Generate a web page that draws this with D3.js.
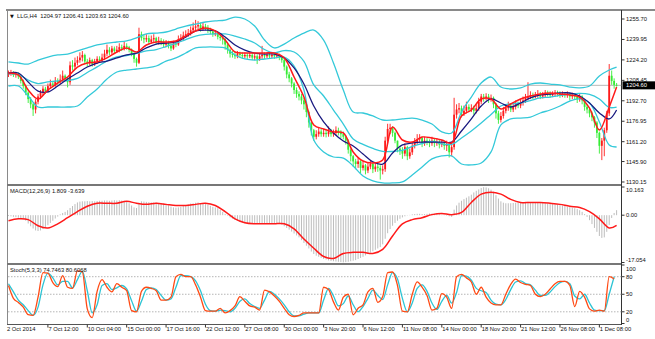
<!DOCTYPE html>
<meta charset="utf-8">
<script src="https://d3js.org/d3.v7.min.js"></script>
<style>
  body { margin: 0; background: #fff; }
  text { font-family: "Liberation Sans", Arial, sans-serif; font-size: 5.8px; fill: #111; }
</style>
<svg id="chart" width="655" height="339"></svg>
<script>
// ---- data (H4 bars) ----
const firstOpen = 1212.5;
const close = [
  1213.5,1214.5,1212.5,1213.8,1211.5,1208,1204,1199,1194,1190,
  1186,1192,1196,1199,1202,1200,1204,1206,1205,1208,
  1207,1209,1212,1210,1207,1220,1219,1222,1224,1226,
  1228,1223,1222,1224,1221,1223,1225,1224,1226,1229,
  1232,1230,1233,1231,1232,1234,1233,1235,1234,1232,
  1229,1225,1222,1244,1241,1240,1241,1238,1240,1241,
  1238,1239,1238,1236,1237,1235,1233,1237,1236,1240,
  1241,1243,1244,1245,1247,1249,1250,1251,1248,1250,
  1249,1247,1246,1244,1245,1242,1241,1240,1236,1232,
  1229,1228,1227,1229,1228,1227,1228,1227,1228,1226,
  1227,1225,1227,1228,1227,1228,1227,1228,1227,1227.5,
  1226,1224,1219,1213,1210,1206,1201,1198,1196,1193,
  1190,1184,1176,1170,1165,1167,1169,1167,1168,1167,
  1169,1167,1168,1170,1168,1167,1165,1162,1155,1150,
  1146,1144,1146,1141,1143,1139,1142,1144,1140,1142,
  1141,1139,1140,1162,1171,1172,1168,1162,1156,1154,
  1152,1157,1150,1153,1158,1161,1163,1164,1160,1162,
  1161,1160,1162,1160,1161,1159,1160,1158,1159,1153,
  1157,1182,1186,1187,1183,1185,1188,1186,1187,1185,
  1187,1192,1196,1195,1196,1194,1195,1190,1183,1178,
  1181,1185,1187,1189,1186,1188,1190,1189,1191,1193,
  1195,1196,1197,1196,1197,1198,1196,1197,1199,1198,
  1197,1198,1199,1198,1197,1198,1197,1198,1196,1197,
  1196,1194,1196,1193,1188,1186,1183,1180,1176,1168,
  1158,1162,1170,1183,1212,1208,1204.97,1204.6
];
const high = [
  1216,1216.5,1215.5,1215,1214.5,1212.5,1209,1205,1200,1195.5,
  1191,1194,1198,1201,1204,1203.5,1206,1209,1208,1211,
  1210,1213,1216,1213,1211,1223,1224,1226,1227,1230,
  1231,1229,1225,1226,1225,1225,1227,1227,1229,1232,
  1236,1234,1235,1234.5,1235,1237,1236,1238,1237,1235,
  1233,1230,1226,1249,1246,1244,1244,1243,1243,1244,
  1242,1242,1241,1240,1239.5,1239,1237,1239,1239,1243,
  1244,1246,1247,1248,1250,1253,1255,1254,1253,1253,
  1252,1251,1249,1248,1247,1246,1244,1243,1241,1237,
  1233,1231,1230,1231,1230.5,1230,1230,1229.5,1230,1229.5,
  1229,1228.5,1229,1235,1230,1230,1229.5,1230,1229.5,1229.5,
  1229,1227,1225,1220,1215,1211,1207,1203,1200,1198,
  1195,1191,1185,1178,1171,1170,1172,1171,1171,1170,
  1173,1171,1170.5,1173,1172,1170,1169,1166,1163,1156,
  1151,1148,1149,1147,1146,1144,1145,1147,1145,1145,
  1144,1143,1143,1165,1175,1175,1173,1169,1162,1158,
  1157,1160,1158,1156,1161,1164,1167,1167,1165,1165,
  1164,1163,1165,1163.5,1164,1163,1162.5,1161.5,1162,1160,
  1160,1195,1190,1191,1189,1189,1192,1190,1190,1189,
  1190,1195,1198,1198,1198.5,1198,1197.5,1196,1191,1185,
  1184,1188,1190,1192,1191,1191,1193,1192,1194,1196,
  1198,1207,1200,1199,1199.5,1201,1199.5,1199.5,1201,1200.5,
  1200,1200,1201,1200.5,1200,1200,1199.5,1200,1199,1199,
  1198.5,1197,1198,1197,1194,1190,1187,1184.5,1181,1177,
  1169,1164,1172,1185,1221,1216,1210,1206.41
];
const low = [
  1211,1212,1211,1210.5,1209.5,1206,1202,1197,1191,1187,
  1181,1183,1190,1194,1197,1198,1199,1202,1203,1203.5,
  1205,1205.5,1207,1208,1203,1205,1216,1217,1220,1222,
  1223,1221,1219,1220,1219,1219.5,1221,1222,1222.5,1224,
  1227,1228,1228.5,1229,1229.5,1230,1231,1231.5,1232,1230,
  1227,1222,1219,1221,1239,1237,1238,1236,1236.5,1238,
  1236,1236,1235.5,1234,1234,1233,1231,1232,1234,1235,
  1238,1239.5,1241,1242,1243,1245,1247,1248,1246,1246.5,
  1247,1245,1244,1242,1242.5,1240,1239,1236,1232,1229,
  1226,1226,1225,1225.5,1226,1225,1225.5,1225,1225.5,1224,
  1224,1221,1223.5,1225,1225,1225.5,1225,1225.5,1225,1225.5,
  1224,1222,1216,1210,1207,1203,1198,1195,1193,1190,
  1186,1180,1172,1166,1162,1163,1165,1165,1165,1164.5,
  1165,1165,1165,1166,1166,1164,1163,1159,1152,1146,
  1142,1140,1141,1137,1139,1136,1137,1140,1137,1138,
  1138,1132,1136,1138,1160,1167,1165,1160,1153,1151,
  1148,1150,1147,1148,1151,1156,1159,1161,1157,1158,
  1158.5,1157,1158,1157,1158,1156,1157,1155,1154,1149,
  1150,1155,1179,1183,1180,1181,1183,1184,1184,1182,
  1183,1185,1190,1192,1193,1191,1192,1187,1179,1175,
  1176,1179,1183,1185,1184,1184,1186,1187,1187,1189,
  1191,1193,1194,1194,1194.5,1195,1194,1194.5,1195,1196,
  1195,1195.5,1196,1196,1195,1195.5,1195,1195,1193,1194,
  1193.5,1191,1192,1190,1185,1183,1180,1177,1172,1164,
  1152,1147,1150,1168,1181,1205,1202,1203.63
];

// indicator lines, read every 4th bar (plus the last bar)
const bbUpper = [
  1222.6,1221.8,1221.0,1224.1,1226.4,1228.0,1228.7,1231.1,1233.4,1235.7,
  1237.2,1238.0,1238.8,1241.1,1244.2,1244.9,1245.7,1248.0,1250.3,1251.8,
  1253.4,1254.2,1254.9,1257.2,1255.7,1250.3,1239.5,1233.4,1236.4,1241.1,
  1244.9,1247.2,1239.5,1221.8,1201.0,1184.1,1183.3,1181.0,1177.9,1177.9,
  1178.7,1179.4,1177.9,1174.8,1168.7,1167.9,1184.1,1195.6,1206.4,1211.0,
  1203.3,1201.8,1202.6,1205.6,1206.4,1205.6,1204.9,1203.3,1202.6,1204.1,
  1211.8,1216.4,1218.7
];
const bbMiddle = [
  1213.4,1213.0,1208.7,1206.0,1207.2,1208.0,1208.3,1209.9,1214.5,1218.8,
  1223.4,1226.5,1227.6,1229.2,1231.1,1232.2,1234.5,1236.9,1239.9,1242.6,
  1243.8,1244.2,1244.2,1242.6,1240.3,1237.2,1232.2,1229.6,1231.4,1230.3,
  1223.0,1204.9,1196.4,1185.6,1174.8,1163.3,1159.1,1156.0,1153.7,1153.7,
  1154.5,1157.5,1159.8,1161.4,1159.5,1159.1,1164.1,1169.5,1175.6,1182.2,
  1188.7,1190.3,1191.0,1192.9,1194.9,1195.6,1196.8,1197.9,1198.4,1197.6,
  1194.1,1187.6,1187.9
];
const bbLower = [
  1204.1,1204.1,1196.4,1187.9,1187.9,1187.9,1187.9,1188.7,1195.6,1201.8,
  1209.5,1214.9,1216.4,1217.2,1218.0,1219.5,1223.3,1225.7,1229.5,1233.4,
  1234.1,1234.1,1233.4,1228.0,1224.9,1224.1,1224.9,1225.7,1226.4,1219.5,
  1201.0,1162.5,1153.3,1149.4,1148.6,1142.5,1134.8,1131.0,1129.4,1129.4,
  1130.2,1135.6,1141.7,1147.9,1150.2,1150.2,1144.0,1143.3,1144.8,1153.3,
  1174.1,1178.7,1179.4,1180.2,1183.3,1185.6,1188.7,1192.5,1194.1,1191.0,
  1176.4,1158.7,1157.1
];
const maSlow = [
  1214.1,1214.1,1207.2,1200.2,1199.5,1204.1,1209.5,1214.1,1218.7,1221.8,
  1223.3,1225.7,1228.0,1229.5,1233.4,1236.4,1237.2,1238.0,1241.8,1246.5,
  1247.2,1246.5,1241.8,1235.7,1231.8,1229.5,1228.7,1228.7,1225.7,1218.0,
  1205.6,1188.7,1176.4,1167.9,1161.7,1157.9,1151.7,1145.6,1144.0,1152.5,
  1158.7,1160.2,1160.9,1160.9,1160.9,1160.9,1169.4,1178.7,1188.7,1194.1,
  1191.0,1187.9,1191.0,1194.9,1197.2,1197.9,1198.7,1198.7,1196.4,1191.0,
  1183.3,1178.7,1185.6
];
const maFast = [
  1214.1,1212.6,1201.0,1194.1,1201.0,1206.4,1211.0,1218.7,1221.8,1222.6,
  1225.7,1230.3,1233.4,1230.3,1235.7,1238.0,1238.0,1238.8,1242.6,1246.5,
  1248.8,1246.5,1239.5,1230.3,1229.5,1229.5,1229.5,1229.5,1225.7,1211.0,
  1195.6,1174.1,1171.0,1168.7,1167.9,1153.3,1146.3,1144.8,1147.1,1172.5,
  1162.5,1160.9,1164.8,1164.0,1162.5,1160.2,1181.0,1185.6,1194.1,1194.1,
  1186.4,1190.2,1194.1,1196.4,1197.9,1198.7,1197.9,1197.2,1195.6,1187.1,
  1170.2,1187.9,1203.3
];
const macdSignal = [
  -2.0,-1.3,-1.6,-3.8,-4.6,-3.1,-0.9,1.3,3.2,4.3,
  4.3,4.3,5.0,4.3,3.9,4.3,3.9,3.5,3.5,3.9,
  4.3,3.5,1.3,-1.3,-2.7,-3.1,-3.1,-3.1,-3.1,-4.9,
  -8.6,-11.9,-14.9,-15.6,-13.8,-13.4,-13.4,-13.8,-12.3,-7.5,
  -3.1,-1.6,-0.9,0.2,0.6,0.2,1.0,4.6,7.6,8.3,
  7.6,5.7,4.6,4.6,4.6,4.3,3.9,3.2,2.8,1.3,
  -1.3,-4.6,-3.639
];
// MACD main, one value per bar (grey histogram)
const macdMain = [
  -0.3,-0.4,-0.6,-0.7,-0.9,-1.0,-1.3,
  -2.0,-3.0,-4.0,-4.8,-5.5,-5.7,
  -5.5,-5.0,-4.3,-3.6,-2.8,-2.0,-1.2,-0.5,
  0.3,0.8,1.2,1.8,2.6,3.3,4.0,4.6,
  4.9,5.0,5.0,5.1,5.0,5.1,5.0,5.1,5.2,
  5.2,5.3,5.3,5.2,5.3,5.4,5.3,5.4,5.3,5.2,5.0,
  4.3,3.5,2.8,2.6,4.5,5.0,
  4.9,4.8,4.7,4.6,4.6,4.5,
  4.4,4.3,4.2,4.0,3.6,
  3.1,2.8,2.7,2.8,3.0,3.3,3.6,3.9,
  4.2,4.3,4.5,4.6,4.4,4.3,4.1,3.8,
  3.4,3.0,2.8,2.5,1.9,
  1.2,0.5,-0.2,-0.8,-1.2,-1.6,-2.0,
  -2.4,-2.7,-2.9,-3.0,-3.0,-3.1,-3.0,-3.0,-2.9,-2.9,-3.0,-3.0,-2.9,-3.0,-3.0,-3.0,-3.1,-3.4,-4.0,
  -4.6,-5.2,-5.9,-6.6,-7.3,-8.0,
  -9.0,-10.0,-11.0,-12.0,-13.1,-14.0,-14.6,-15.0,-15.4,-15.8,-16.0,-16.3,
  -16.5,-16.6,-16.7,-16.8,-16.9,-17.0,-16.9,-16.8,-16.6,-16.4,-16.2,-15.8,-15.4,-15.0,
  -14.5,-14.0,-13.5,-13.0,-12.5,-12.0,-11.5,-10.5,
  -8.5,-6.5,-5.0,-3.8,-2.8,-2.0,
  -1.3,-0.8,-0.4,-0.1,0.1,0.3,0.4,0.5,0.5,0.4,
  0.4,0.5,0.6,0.6,0.5,0.4,0.3,0.2,0.1,-0.2,-0.4,-0.6,2.0,
  3.5,4.5,5.2,5.8,6.3,6.8,7.4,
  8.2,8.8,9.3,9.8,10.1,10.0,9.7,9.2,8.5,
  7.2,6.0,5.0,4.5,4.3,4.3,
  4.3,4.4,4.5,4.6,4.6,4.7,4.8,4.8,4.7,
  4.7,4.6,4.6,4.5,4.4,4.3,4.2,4.1,4.0,3.9,3.8,3.6,3.5,
  3.3,3.1,2.9,2.7,2.5,2.2,1.8,1.2,0.4,-0.6,-1.8,
  -3.2,-4.6,-6.0,-7.5,-8.2,-8.0,-6.0,-3.5,-1.0,0.8,1.809
];
// stochastic, read every 2nd bar
const stochMain = [
  65,43,36,28,15,14,45,87,86,70,
  63,82,62,60,90,88,25,10,55,75,
  62,54,68,62,56,22,20,55,62,60,
  56,40,40,45,80,84,80,80,66,45,
  22,21,21,26,18,22,30,46,38,30,
  28,23,57,54,47,38,26,15,12,14,
  18,18,18,18,62,58,37,23,45,50,
  15,26,32,54,60,36,46,87,88,65,
  21,20,50,71,62,48,23,26,51,45,
  26,80,84,78,71,50,62,45,35,32,
  32,50,67,76,70,67,65,50,46,50,
  59,68,72,72,65,29,55,45,25,21,
  23,21,80,76
];
const stochSignal = [
  68,54,40,32,22,14,28,66,86,78,
  66,72,72,61,75,89,56,18,32,65,
  68,58,61,65,59,39,21,38,58,61,
  58,48,40,42,62,82,82,80,73,56,
  33,22,21,23,22,20,26,38,42,34,
  29,26,40,55,50,42,32,20,13,13,
  16,18,18,18,40,60,47,30,34,47,
  32,20,29,43,57,48,41,66,87,76,
  43,20,35,60,66,55,35,24,38,48,
  35,53,82,81,74,60,56,53,40,33,
  32,41,58,71,73,68,66,57,48,48,
  54,63,70,72,68,47,42,50,35,23,
  22,22,50,80
];

// axis labels
const priceTicks = [1255.70, 1239.95, 1224.20, 1208.45, 1192.70, 1176.95, 1161.20, 1145.90, 1130.15];
const macdTicks = [10.163, 0, -17.054];
const macdTickText = ["10.163", "0.00", "-17.054"];
const stochTicks = [100, 80, 50, 20, 0];
const stochLevels = [80, 50, 20];
const timeLabels = ["7 Oct 12:00", "10 Oct 04:00", "15 Oct 00:00", "17 Oct 16:00", "22 Oct 12:00",
  "27 Oct 08:00", "30 Oct 00:00", "3 Nov 20:00", "6 Nov 12:00", "11 Nov 08:00", "14 Nov 00:00",
  "18 Nov 20:00", "21 Nov 12:00", "26 Nov 08:00", "1 Dec 08:00"];
const lastPrice = 1204.60;

// ---- layout ----
const svg = d3.select("#chart");
const left = 8, axisX = 621.5;
const x = d3.scaleLinear().domain([0, close.length - 1]).range([8.5, 616.6]);
const yMain = d3.scaleLinear().domain([1128.6, 1261.1]).range([184, 12]);
const yMacd = d3.scaleLinear().domain([-17.054, 10.163]).range([262.5, 187]);
const yStoch = d3.scaleLinear().domain([0, 100]).range([323.5, 265]);

const lineBars = d3.range(0, 245, 4).concat([247]);
const stochBars = d3.range(0, 247, 2);

const RED = "#ff1a1a", GREEN = "#35ec35", CYAN = "#34c9d9", NAVY = "#1a1a80";

svg.append("defs").append("clipPath").attr("id", "mainClip")
  .append("rect").attr("x", left).attr("y", 11).attr("width", axisX - left).attr("height", 173);

// frames
const frame = svg.append("g").attr("stroke", "#8a8a8a").attr("fill", "none");
frame.append("line").attr("x1", 6).attr("x2", 655).attr("y1", 10).attr("y2", 10).attr("stroke-width", 2);
frame.append("line").attr("x1", 7.5).attr("x2", 7.5).attr("y1", 10).attr("y2", 324);
frame.append("line").attr("x1", 7).attr("x2", axisX).attr("y1", 185).attr("y2", 185).attr("stroke-width", 2).attr("stroke", "#777");
frame.append("line").attr("x1", 7).attr("x2", axisX).attr("y1", 264).attr("y2", 264).attr("stroke-width", 2).attr("stroke", "#777");
frame.append("line").attr("x1", 7).attr("x2", axisX).attr("y1", 324.5).attr("y2", 324.5).attr("stroke", "#555");
frame.append("line").attr("x1", axisX).attr("x2", axisX).attr("y1", 10).attr("y2", 325).attr("stroke", "#333");

// ---- main panel ----
const main = svg.append("g").attr("clip-path", "url(#mainClip)");

main.append("line")
  .attr("x1", left).attr("x2", axisX)
  .attr("y1", yMain(lastPrice)).attr("y2", yMain(lastPrice))
  .attr("stroke", "#b8b8b8").attr("stroke-width", 1);

const open = close.map((c, i) => i ? close[i - 1] : firstOpen);
const bars = close.map((c, i) => ({ i, o: open[i], h: high[i], l: low[i], c }));
const colorOf = d => d.c >= d.o ? RED : GREEN;

main.append("g").selectAll("line").data(bars).join("line")
  .attr("x1", d => x(d.i)).attr("x2", d => x(d.i))
  .attr("y1", d => yMain(d.h)).attr("y2", d => yMain(d.l))
  .attr("stroke", colorOf).attr("stroke-width", 0.9);

main.append("g").selectAll("rect").data(bars).join("rect")
  .attr("x", d => x(d.i) - 0.9).attr("width", 1.8)
  .attr("y", d => yMain(Math.max(d.o, d.c)))
  .attr("height", d => Math.max(0.8, Math.abs(yMain(d.o) - yMain(d.c))))
  .attr("fill", colorOf);

const sampled = vals => vals.map((v, k) => [x(lineBars[k]), yMain(v)]);
const smooth = d3.line().curve(d3.curveCatmullRom.alpha(0.5));

[[bbUpper, CYAN, 1.3], [bbMiddle, CYAN, 1.3], [bbLower, CYAN, 1.3],
 [maSlow, NAVY, 1.3], [maFast, RED, 1.5]].forEach(([vals, col, w]) => {
  main.append("path").attr("d", smooth(sampled(vals)))
    .attr("fill", "none").attr("stroke", col).attr("stroke-width", w);
});

// price axis
const pAxis = svg.append("g");
priceTicks.forEach(p => {
  const yy = yMain(p);
  pAxis.append("line").attr("x1", axisX).attr("x2", axisX + 3).attr("y1", yy).attr("y2", yy).attr("stroke", "#333");
  pAxis.append("text").attr("x", axisX + 4.5).attr("y", yy).attr("dy", "0.35em").text(p.toFixed(2));
});
const ly = yMain(lastPrice);
pAxis.append("rect").attr("x", axisX + 1).attr("y", ly - 4).attr("width", 33).attr("height", 8).attr("fill", "#000");
pAxis.append("text").attr("x", axisX + 4.5).attr("y", ly).attr("dy", "0.35em").style("fill", "#fff").text(lastPrice.toFixed(2));

svg.append("text").attr("x", 10).attr("y", 17.5).style("font-family", "DejaVu Sans").style("font-size", "5px").text("\u25BC");
svg.append("text").attr("x", 17).attr("y", 18).attr("xml:space", "preserve")
  .text("LLG,H4  " + [open[open.length - 1], high[high.length - 1], low[low.length - 1], close[close.length - 1]].map(v => v.toFixed(2)).join(" "));

// ---- MACD panel ----
const macd = svg.append("g");
macd.append("g").selectAll("line").data(macdMain).join("line")
  .attr("x1", (v, i) => x(i)).attr("x2", (v, i) => x(i))
  .attr("y1", yMacd(0)).attr("y2", v => yMacd(v))
  .attr("stroke", "#bdbdbd").attr("stroke-width", 1);
macd.append("path")
  .attr("d", smooth(macdSignal.map((v, k) => [x(lineBars[k]), yMacd(v)])))
  .attr("fill", "none").attr("stroke", RED).attr("stroke-width", 1.5);
macd.append("text").attr("x", 10).attr("y", 192.5)
  .text("MACD(12,26,9) " + macdMain[macdMain.length - 1].toFixed(3) + " " + macdSignal[macdSignal.length - 1].toFixed(3));
macdTicks.forEach((v, k) => {
  const yy = yMacd(v);
  const ty = Math.min(Math.max(yy, 190), 259.5);
  macd.append("line").attr("x1", axisX).attr("x2", axisX + 3).attr("y1", yy).attr("y2", yy).attr("stroke", "#333");
  macd.append("text").attr("x", axisX + 4.5).attr("y", ty).attr("dy", "0.35em").text(macdTickText[k]);
});

// ---- Stochastic panel ----
const st = svg.append("g");
stochLevels.forEach(v => {
  st.append("line").attr("x1", left).attr("x2", axisX)
    .attr("y1", yStoch(v)).attr("y2", yStoch(v))
    .attr("stroke", "#b5b5b5").attr("stroke-dasharray", "1.5,1.5");
});
const stLine = d3.line().curve(d3.curveMonotoneX);
st.append("path").attr("d", stLine(stochSignal.map((v, k) => [x(stochBars[k]), yStoch(v)])))
  .attr("fill", "none").attr("stroke", "#2cc4d4").attr("stroke-width", 1.3);
st.append("path").attr("d", stLine(stochMain.map((v, k) => [x(stochBars[k]), yStoch(v)])))
  .attr("fill", "none").attr("stroke", "#ff4a14").attr("stroke-width", 1.3);
st.append("text").attr("x", 10).attr("y", 271.5).text("Stoch(5,3,3) 74.7463 80.6068");
stochTicks.forEach(v => {
  const yy = yStoch(v);
  const ty = Math.min(Math.max(yy, 268.5), 319.5);
  st.append("line").attr("x1", axisX).attr("x2", axisX + 3).attr("y1", yy).attr("y2", yy).attr("stroke", "#333");
  st.append("text").attr("x", axisX + 4.5).attr("y", ty).attr("dy", "0.35em").text(v);
});

// ---- time axis ----
const tAxis = svg.append("g");
tAxis.append("text").attr("x", 7).attr("y", 331).text("2 Oct 2014");
timeLabels.forEach((t, k) => {
  const xx = x((k + 1) * 16);
  tAxis.append("line").attr("x1", xx).attr("x2", xx).attr("y1", 324.5).attr("y2", 327.5).attr("stroke", "#333");
  tAxis.append("text").attr("x", xx + 0.5).attr("y", 331).text(t);
});
</script>
